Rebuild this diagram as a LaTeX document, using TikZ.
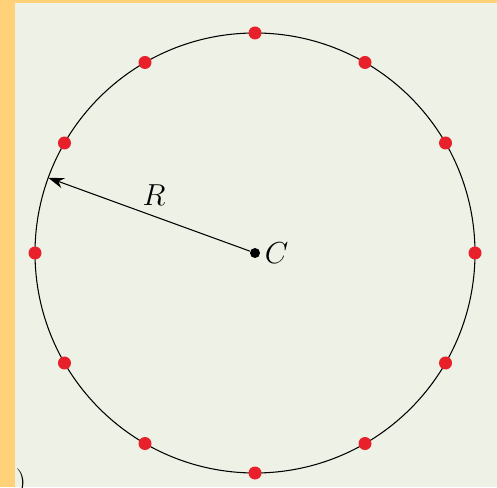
\documentclass[tikz,border=0pt]{standalone}
\usepackage{amsmath,amssymb}
\usepackage{xcolor}
\usepackage{tikz}
\usetikzlibrary{arrows.meta, positioning, calc}
\definecolor{frameorange}{HTML}{FFD27A}
\definecolor{panelgray}{HTML}{EEF1E6}
\definecolor{chargered}{HTML}{E8202A}

\begin{document}
\begin{tikzpicture}[
    x=0.02cm, y=0.02cm,
    charge/.style={circle, fill=chargered, inner sep=0pt, minimum size=13*0.02cm},
    centre/.style={circle, fill=black, inner sep=0pt, minimum size=10*0.02cm},
    label/.style={font=\fontsize{16.5}{18}\selectfont},
    arrow/.style={-{Stealth[length=9pt, width=6pt]}, semithick}
]

% Background
\useasboundingbox (0,0) rectangle (497,487);
\fill[frameorange] (0,0) rectangle (497,487);
\fill[panelgray] (15,0) rectangle (497,484);

% Ring of radius R
\coordinate (c) at (255,234);
\draw[semithick] (c) circle (220);
\coordinate (rim) at ($(c)+(160:220)$);

% Charges around the ring
\foreach \a in {0,30,...,330}
    \node[charge] (q\a) at ($(c)+(\a:220)$) {};

% Centre and radius
\node[centre] (cdot) at (c) {};
\node[label, right=-1pt of cdot] (clabel) {$C$};
\draw[arrow] (cdot) -- (rim);
\node[label] (rlabel) at (154,292) {$R$};

% Cut-off panel label
\node[label] (tag) at (21,4) {)};

\end{tikzpicture}
\end{document}
